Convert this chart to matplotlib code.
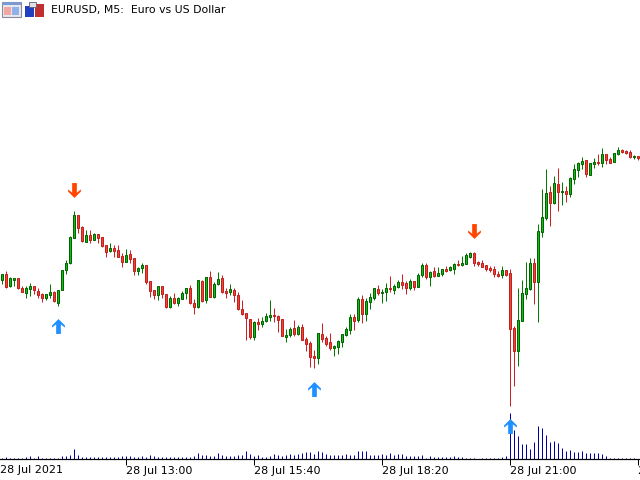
import matplotlib
matplotlib.use("Agg")
import matplotlib.pyplot as plt
from matplotlib.patches import Rectangle
from matplotlib.path import Path
import numpy as np

title = "EURUSD, M5:  Euro vs US Dollar"
first_label = "28 Jul 2021"
tick_index = [31, 63, 95, 127, 159]
tick_labels = ["28 Jul 13:00", "28 Jul 15:40", "28 Jul 18:20", "28 Jul 21:00", "28 Jul 23:40"]

# precos (sem escala visivel, unidade relativa)
opens = [
    200.3, 205.7, 193.7, 200.0, 201.7, 192.0, 187.3, 191.3, 193.7, 189.0,
    186.0, 182.3, 185.3, 188.0, 177.3, 190.3, 210.3, 217.0, 242.3, 264.7,
    252.7, 238.3, 244.7, 240.3, 245.7, 242.7, 234.7, 229.0, 231.7, 229.7,
    223.7, 218.3, 225.7, 221.7, 209.3, 212.3, 214.7, 198.7, 189.7, 185.3,
    193.7, 185.7, 173.3, 181.7, 176.7, 181.3, 186.7, 191.7, 176.7, 173.0,
    199.0, 179.7, 202.7, 182.7, 195.7, 201.7, 188.7, 188.3, 189.7, 185.0,
    170.7, 166.7, 160.7, 143.3, 157.7, 156.3, 159.3, 163.3, 164.7, 164.0,
    160.7, 143.3, 144.7, 151.7, 146.3, 152.7, 140.7, 136.7, 123.7, 122.3,
    145.7, 141.7, 137.7, 132.3, 133.3, 138.0, 145.0, 150.3, 162.7, 160.0,
    180.7, 166.3, 178.3, 182.3, 190.7, 187.0, 188.3, 192.0, 190.3, 193.3,
    197.7, 196.7, 192.0, 198.7, 193.3, 204.7, 215.0, 203.3, 208.7, 204.3,
    206.3, 210.7, 209.7, 211.0, 215.7, 214.7, 216.3, 223.3, 227.0, 217.7,
    216.7, 214.7, 211.7, 210.7, 206.3, 204.7, 209.7, 206.7, 152.0, 129.3,
    159.3, 186.3, 191.3, 216.7, 198.3, 248.3, 262.3, 287.7, 277.0, 295.7,
    287.7, 288.7, 286.3, 301.3, 310.3, 315.7, 319.7, 305.3, 316.3, 317.7,
    317.3, 325.7, 321.0, 318.3, 326.3, 330.0, 329.0, 327.7, 322.7, 323.7,
]
closes = [
    205.7, 193.0, 201.7, 201.7, 191.7, 188.3, 191.7, 193.7, 189.7, 185.3,
    182.3, 185.7, 187.7, 179.3, 189.7, 209.7, 216.7, 243.0, 265.0, 252.3,
    238.7, 244.7, 240.3, 245.7, 242.3, 234.0, 228.3, 231.7, 229.3, 223.3,
    218.3, 224.7, 221.3, 209.3, 212.0, 214.7, 198.3, 189.3, 185.3, 193.7,
    185.7, 173.3, 181.7, 176.7, 181.7, 186.7, 191.7, 176.7, 173.3, 199.7,
    179.3, 202.7, 183.3, 195.7, 200.7, 188.3, 187.3, 190.7, 184.7, 170.7,
    166.3, 161.7, 143.3, 158.0, 156.3, 158.7, 163.7, 164.7, 164.0, 160.3,
    144.3, 144.7, 150.7, 146.0, 152.7, 140.3, 136.3, 123.3, 122.3, 146.7,
    141.3, 136.0, 132.3, 134.0, 139.0, 145.7, 150.7, 162.7, 159.0, 180.7,
    166.3, 178.7, 182.7, 191.7, 187.0, 188.0, 191.7, 191.3, 194.0, 197.7,
    195.0, 192.3, 198.7, 193.3, 205.0, 214.7, 203.0, 208.0, 204.0, 206.7,
    210.7, 209.3, 213.0, 215.7, 214.7, 216.7, 225.0, 227.0, 217.0, 216.3,
    213.3, 211.3, 210.3, 206.0, 204.0, 209.7, 205.3, 151.3, 129.3, 160.0,
    187.0, 191.7, 216.7, 198.3, 248.7, 262.7, 286.7, 277.3, 296.7, 287.7,
    288.7, 286.3, 301.7, 310.7, 316.7, 318.7, 306.3, 316.7, 317.7, 317.0,
    325.7, 320.0, 317.3, 326.7, 329.7, 328.3, 327.0, 323.3, 323.7, 322.3,
]
highs = [
    205.7, 209.0, 202.7, 201.7, 201.7, 193.7, 193.7, 197.0, 193.7, 192.0,
    187.3, 186.3, 195.7, 188.7, 189.7, 209.7, 219.7, 243.7, 269.0, 265.0,
    253.7, 249.7, 249.7, 247.3, 245.7, 243.0, 235.3, 236.7, 235.0, 235.0,
    226.7, 230.7, 230.0, 222.3, 213.0, 216.7, 214.7, 198.7, 189.7, 193.7,
    193.7, 185.7, 184.0, 186.7, 183.3, 188.7, 191.7, 194.7, 180.7, 199.7,
    199.7, 202.7, 209.0, 197.7, 208.0, 204.7, 191.7, 195.7, 192.0, 187.7,
    180.0, 166.7, 160.7, 158.7, 162.0, 162.7, 166.7, 180.0, 171.7, 165.0,
    160.7, 150.7, 152.7, 160.0, 154.7, 156.0, 142.7, 138.7, 129.7, 146.7,
    157.0, 144.0, 147.0, 135.3, 139.7, 145.7, 152.7, 165.7, 165.7, 182.7,
    184.7, 181.7, 186.7, 191.7, 194.7, 191.0, 196.7, 203.7, 196.0, 199.7,
    205.7, 199.0, 200.7, 199.3, 207.0, 217.0, 217.0, 209.0, 212.7, 212.7,
    211.0, 214.0, 213.7, 217.0, 220.0, 224.0, 226.7, 228.0, 227.7, 218.7,
    220.0, 215.0, 213.7, 214.0, 209.3, 214.0, 210.0, 211.0, 154.0, 191.7,
    200.0, 218.0, 222.0, 222.0, 256.0, 290.7, 310.7, 294.0, 304.0, 312.0,
    298.0, 293.7, 302.7, 316.0, 318.0, 322.7, 319.7, 317.3, 321.7, 326.0,
    331.7, 325.7, 323.0, 326.7, 332.7, 330.7, 330.0, 329.7, 325.0, 323.7,
]
lows = [
    196.3, 192.3, 193.0, 194.3, 191.0, 188.3, 182.3, 184.3, 186.3, 181.7,
    178.3, 179.7, 182.3, 178.3, 174.3, 189.7, 206.3, 216.3, 241.7, 247.0,
    238.0, 237.7, 237.3, 239.7, 237.0, 233.0, 223.0, 227.7, 223.0, 222.7,
    213.0, 217.7, 217.0, 205.0, 205.0, 207.0, 196.3, 183.3, 181.0, 180.0,
    182.0, 172.3, 172.3, 176.0, 174.3, 180.7, 181.0, 176.0, 166.0, 172.3,
    178.3, 177.3, 183.3, 182.0, 195.3, 187.3, 182.0, 185.3, 178.0, 170.0,
    165.3, 140.0, 141.0, 140.0, 150.0, 153.3, 158.3, 159.0, 158.0, 148.0,
    144.0, 138.0, 143.3, 144.3, 145.0, 139.7, 129.0, 113.0, 112.0, 116.0,
    138.3, 134.0, 130.0, 124.3, 126.0, 133.3, 144.3, 146.0, 150.0, 158.0,
    157.0, 159.0, 171.0, 180.0, 185.0, 177.0, 179.0, 187.7, 186.0, 192.0,
    190.7, 186.0, 190.3, 189.7, 192.7, 202.7, 201.0, 194.0, 203.3, 204.0,
    204.0, 208.0, 209.0, 205.7, 214.3, 214.3, 216.0, 222.3, 214.0, 214.0,
    212.7, 209.0, 208.0, 203.0, 203.0, 202.0, 204.3, 74.0, 94.0, 114.3,
    159.0, 181.3, 190.0, 176.3, 158.3, 242.7, 260.3, 254.3, 276.3, 269.3,
    275.3, 278.3, 283.3, 296.3, 303.3, 310.7, 303.3, 304.7, 312.3, 315.3,
    313.3, 315.7, 316.7, 318.0, 325.3, 327.3, 325.7, 322.3, 320.7, 320.0,
]
volumes = [
    1, 2, 1, 1, 1, 1, 2, 3, 1, 3,
    1, 1, 1, 1, 1, 3, 3, 4, 10, 4,
    2, 2, 2, 2, 2, 2, 2, 2, 2, 2,
    3, 3, 3, 2, 2, 3, 2, 4, 3, 2,
    2, 2, 2, 2, 2, 2, 2, 2, 3, 6,
    4, 4, 3, 3, 6, 4, 3, 3, 3, 4,
    4, 8, 5, 3, 4, 2, 2, 3, 5, 4,
    3, 4, 5, 4, 5, 6, 7, 7, 5, 8,
    7, 5, 4, 4, 4, 4, 5, 4, 4, 8,
    8, 8, 4, 4, 4, 5, 4, 6, 4, 5,
    5, 3, 3, 3, 3, 4, 1, 3, 2, 2,
    2, 2, 2, 3, 2, 2, 1, 1, 1, 0,
    1, 1, 1, 1, 1, 2, 3, 46, 29, 23,
    15, 15, 10, 17, 33, 31, 24, 17, 18, 16,
    11, 8, 9, 7, 7, 8, 6, 6, 6, 6,
    5, 3, 1, 1, 1, 1, 1, 1, 1, 0,
]

# setas de sinal
buy_index = [14, 78, 127]
buy_level = [154, 91, 54]
sell_index = [18, 118]
sell_level = [290, 249.5]

plt.rcParams["font.family"] = "DejaVu Sans"

fig = plt.figure(figsize=(6.4, 4.8), dpi=100)
ax = fig.add_axes([0, 21 / 480, 1, 459 / 480])
ax2 = ax.twinx()
ax.set_zorder(ax2.get_zorder() + 1)
ax.patch.set_visible(False)

x = np.arange(len(opens))
o = np.array(opens)
c = np.array(closes)
up = c > o

ax.vlines(x[up], np.array(lows)[up], np.array(highs)[up], color="#007a00", lw=0.72)
ax.vlines(x[~up], np.array(lows)[~up], np.array(highs)[~up], color="#cc2222", lw=0.72)
ax.bar(x[up], (c - o)[up], bottom=o[up], width=0.5, color="#16b816", edgecolor="#006600", lw=0.72, zorder=3)
ax.bar(x[~up], (c - o)[~up], bottom=o[~up], width=0.5, color="#f0452f", edgecolor="#c02020", lw=0.72, zorder=3)

up_arrow = Path([(0, 7), (6, 1), (6, -1), (2.2, 2), (2.2, -7), (-2.2, -7), (-2.2, 2), (-6, -1), (-6, 1), (0, 7)], closed=True)
down_arrow = Path([(0, -7), (6, -1), (6, 1), (2.2, -2), (2.2, 7), (-2.2, 7), (-2.2, -2), (-6, 1), (-6, -1), (0, -7)], closed=True)
ax.scatter(buy_index, buy_level, marker=up_arrow, s=115, color="#1e90ff", lw=0, zorder=5)
ax.scatter(sell_index, sell_level, marker=down_arrow, s=115, color="#ff4500", lw=0, zorder=5)

ax2.vlines(x, 0, volumes, color="#0000a0", lw=0.72)
ax2.set_ylim(0, 459)
ax2.set_yticks([])

ax.set_xlim(-0.575, 159.425)
ax.set_ylim(21, 480)
ax.set_yticks([])
ax.set_xticks(tick_index)
ax.set_xticklabels(tick_labels, ha="left", fontsize=8)
ax.tick_params(axis="x", length=4, width=0.72, pad=1)
ax.text(-0.7, -0.0125, first_label, transform=ax.get_xaxis_transform(), ha="left", va="top", fontsize=8)

for a in [ax, ax2]:
    for s in ["top", "left", "right"]:
        a.spines[s].set_visible(False)
ax.spines["bottom"].set_linewidth(0.8)

# icones e titulo do topo
top = fig.add_axes([0, 0, 1, 1], zorder=10)
top.set_xlim(0, 640)
top.set_ylim(480, 0)
top.axis("off")
top.patch.set_visible(False)
top.text(51, 10.5, title, fontsize=7.8, va="center", ha="left")
top.add_patch(Rectangle((2, 2), 19, 15, fc="#e8e8f0", ec="#8a8a9a", lw=0.8))
top.add_patch(Rectangle((2, 2), 19, 3, fc="#7d9ad0", ec="none"))
top.add_patch(Rectangle((4, 7), 7, 8, fc="#f0a8a0", ec="none"))
top.add_patch(Rectangle((12, 7), 7, 8, fc="#8fb0e8", ec="none"))
top.add_patch(Rectangle((25, 6), 9, 11, fc="#2040c0", ec="none"))
top.add_patch(Rectangle((35, 4), 9, 13, fc="#c03030", ec="none"))
top.add_patch(Rectangle((29, 2), 7, 5, fc="#e0e0e8", ec="#606070", lw=0.6))

plt.savefig("out.png", dpi=100)
